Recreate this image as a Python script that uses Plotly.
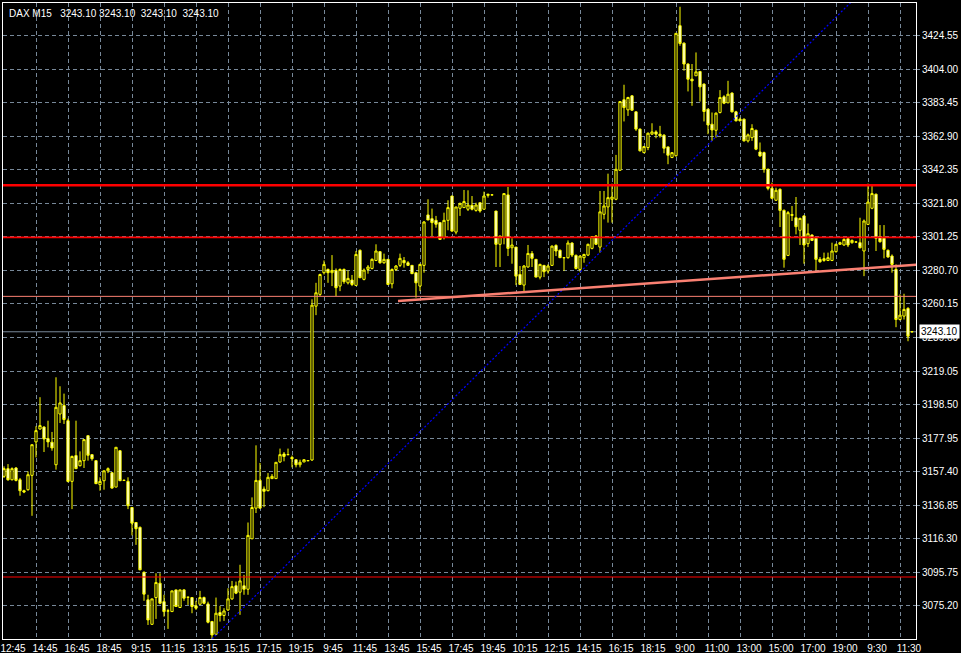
import plotly.graph_objects as go

# ---------------- data (DAX, M15) ----------------
time_labels = ["12:45", "14:45", "16:45", "18:45", "9:15", "11:15", "13:15", "15:15",
               "17:15", "19:15", "9:45", "11:45", "13:45", "15:45", "17:45", "19:45",
               "10:15", "12:15", "14:15", "16:15", "18:15", "9:00", "11:00", "13:00",
               "15:00", "17:00", "19:00", "9:30", "11:30"]

open_ = [3154.5, 3159.2, 3152.4, 3159.6, 3152.4, 3145.7, 3146.3, 3155.1, 3175.6, 3183.5,
         3184.7, 3177.6, 3175.4, 3161.6, 3192.7, 3197.9, 3188.6, 3151.4, 3167.2, 3161.0,
         3164.1, 3179.4, 3167.8, 3164.1, 3149.4, 3151.8, 3157.9, 3156.7, 3147.9, 3170.2,
         3152.0, 3151.4, 3135.4, 3126.2, 3123.2, 3095.7, 3078.8, 3063.8, 3080.2, 3089.0,
         3077.7, 3072.0, 3071.6, 3084.9, 3074.1, 3084.9, 3080.4, 3080.2, 3075.1, 3076.1,
         3080.2, 3076.3, 3065.5, 3057.7, 3071.0, 3069.2, 3072.6, 3079.4, 3087.4, 3083.5,
         3087.4, 3085.3, 3116.2, 3135.0, 3152.0, 3146.7, 3145.7, 3153.1, 3153.1, 3163.3,
         3168.2, 3167.8, 3166.1, 3164.7, 3161.6, 3163.3, 3164.1, 3164.5,
         3258.8, 3266.0, 3279.3, 3281.3, 3279.3, 3280.7, 3271.1, 3281.3, 3273.1, 3274.8,
         3271.5, 3293.0, 3275.2, 3281.3, 3281.9, 3286.8, 3292.2, 3285.4, 3287.5, 3272.5,
         3281.3, 3283.8, 3286.8, 3285.4, 3283.8, 3279.3, 3271.1, 3283.8, 3314.7, 3312.4,
         3311.4, 3310.0, 3300.8, 3311.4, 3326.3, 3304.2, 3318.8, 3319.2, 3318.2, 3320.6,
         3317.5, 3322.2, 3318.2, 3326.7, 3327.0, 3317.1, 3296.7, 3300.8, 3327.0, 3294.6,
         3295.0, 3278.2, 3271.7, 3282.8, 3291.1, 3287.5, 3276.6, 3283.8, 3280.3, 3283.8,
         3296.0, 3293.0, 3288.5, 3288.5, 3297.5, 3289.9, 3281.3, 3288.5, 3290.1, 3294.2,
         3301.8, 3295.0, 3315.1, 3319.6, 3324.3, 3324.3, 3342.1, 3385.3, 3379.1, 3387.7,
         3377.9, 3367.3, 3352.9, 3356.0, 3364.2, 3365.6, 3364.2, 3363.6, 3356.4, 3349.9,
         3351.0, 3430.7, 3420.0, 3407.2, 3397.9, 3400.0, 3402.6, 3394.9, 3379.5, 3370.3,
         3366.6, 3377.5, 3387.1, 3383.4, 3389.4, 3377.9, 3373.4, 3373.4, 3360.1, 3362.1,
         3366.6, 3353.3, 3352.9, 3342.7, 3331.0, 3323.7, 3330.4, 3317.5, 3289.9, 3314.9,
         3313.0, 3305.3, 3314.1, 3297.1, 3302.4, 3300.4, 3287.5, 3286.8, 3286.8, 3286.8,
         3292.2, 3296.7, 3296.3, 3300.1, 3297.7, 3298.1, 3297.7, 3292.6, 3308.9, 3318.8,
         3327.4, 3301.2, 3300.4, 3293.0, 3289.5, 3281.3, 3250.6, 3252.7, 3257.4, 3243.1]

high = [3160.6, 3162.0, 3160.0, 3160.2, 3153.5, 3146.3, 3157.5, 3173.9, 3185.2, 3203.0,
        3185.2, 3188.6, 3181.7, 3215.2, 3209.7, 3205.2, 3189.9, 3167.2, 3188.6, 3169.8,
        3177.0, 3179.4, 3167.8, 3164.1, 3153.9, 3157.9, 3160.0, 3157.1, 3172.3, 3170.5,
        3152.6, 3153.9, 3135.4, 3126.2, 3123.8, 3096.2, 3081.9, 3079.4, 3095.1, 3095.1,
        3081.9, 3073.3, 3084.3, 3084.9, 3084.9, 3085.3, 3080.4, 3080.2, 3078.2, 3084.3,
        3080.8, 3077.7, 3065.9, 3080.2, 3075.1, 3073.7, 3085.9, 3090.4, 3090.0, 3100.3,
        3094.1, 3126.2, 3141.6, 3173.5, 3162.7, 3148.3, 3156.5, 3155.9, 3163.1, 3171.5,
        3169.4, 3171.5, 3167.2, 3164.7, 3164.7, 3164.9, 3164.3, 3263.0,
        3273.1, 3278.7, 3286.8, 3281.9, 3290.1, 3281.9, 3281.9, 3281.9, 3280.7, 3277.9,
        3292.6, 3293.6, 3281.9, 3284.0, 3288.1, 3296.7, 3292.6, 3291.0, 3287.5, 3281.9,
        3284.0, 3291.0, 3288.9, 3286.4, 3283.8, 3279.3, 3284.8, 3311.0, 3324.3, 3318.6,
        3314.1, 3310.0, 3316.1, 3323.7, 3326.3, 3319.6, 3322.2, 3330.0, 3329.8, 3326.3,
        3322.2, 3322.2, 3329.0, 3327.4, 3327.2, 3317.1, 3301.8, 3327.8, 3331.9, 3300.4,
        3295.0, 3283.4, 3284.0, 3296.3, 3292.6, 3287.5, 3284.8, 3283.8, 3284.4, 3296.0,
        3296.7, 3293.6, 3288.7, 3299.1, 3297.9, 3290.5, 3289.9, 3290.9, 3297.1, 3301.8,
        3302.4, 3329.4, 3329.4, 3340.0, 3333.9, 3351.5, 3384.2, 3394.5, 3387.1, 3388.1,
        3378.1, 3367.7, 3357.0, 3365.2, 3370.9, 3366.6, 3369.3, 3364.2, 3356.6, 3352.9,
        3426.0, 3442.3, 3420.4, 3407.6, 3407.2, 3414.3, 3403.0, 3395.3, 3379.9, 3377.5,
        3377.5, 3391.2, 3388.1, 3396.9, 3389.8, 3378.5, 3374.4, 3373.8, 3364.6, 3370.3,
        3367.0, 3359.1, 3353.5, 3343.1, 3334.5, 3331.4, 3331.0, 3318.1, 3317.1, 3320.2,
        3325.7, 3313.0, 3314.5, 3309.4, 3302.8, 3300.8, 3288.9, 3291.6, 3291.6, 3297.7,
        3297.1, 3298.3, 3300.4, 3300.8, 3299.7, 3298.3, 3313.0, 3311.9, 3333.9, 3333.5,
        3327.8, 3308.5, 3308.5, 3293.6, 3290.5, 3284.4, 3266.0, 3266.4, 3258.2, 3243.1]

low = [3153.5, 3151.8, 3152.0, 3151.4, 3142.6, 3144.2, 3145.7, 3130.3, 3166.1, 3183.1,
       3169.4, 3172.3, 3170.2, 3158.6, 3187.2, 3186.6, 3150.8, 3134.4, 3159.2, 3160.6,
       3159.6, 3164.1, 3164.1, 3149.8, 3145.7, 3146.3, 3156.5, 3146.9, 3147.9, 3151.8,
       3151.6, 3134.4, 3118.3, 3112.5, 3097.0, 3078.2, 3063.4, 3063.4, 3067.1, 3076.1,
       3068.5, 3061.0, 3071.6, 3074.7, 3074.1, 3078.2, 3075.7, 3070.6, 3072.6, 3075.7,
       3076.1, 3064.4, 3054.8, 3057.3, 3065.5, 3065.9, 3072.0, 3078.8, 3082.3, 3069.6,
       3081.9, 3081.9, 3116.2, 3132.0, 3135.0, 3135.6, 3145.3, 3153.1, 3153.1, 3162.7,
       3163.7, 3167.8, 3160.0, 3160.0, 3160.0, 3163.3, 3163.9, 3164.0,
       3253.3, 3265.0, 3278.2, 3273.1, 3271.1, 3265.0, 3268.0, 3272.5, 3272.1, 3271.1,
       3271.5, 3276.2, 3274.6, 3278.7, 3281.3, 3286.4, 3284.8, 3284.8, 3271.7, 3269.7,
       3280.3, 3282.8, 3282.4, 3283.4, 3278.7, 3264.0, 3268.0, 3279.3, 3311.6, 3301.8,
       3306.9, 3299.7, 3299.7, 3305.3, 3304.4, 3302.8, 3314.1, 3319.2, 3317.1, 3317.5,
       3316.7, 3316.1, 3318.2, 3325.3, 3326.8, 3282.8, 3282.8, 3296.7, 3289.5, 3284.8,
       3271.7, 3272.1, 3267.6, 3282.4, 3282.8, 3276.6, 3275.2, 3276.6, 3278.7, 3283.4,
       3289.5, 3288.5, 3280.3, 3287.9, 3288.9, 3281.3, 3279.9, 3285.4, 3289.5, 3293.6,
       3296.3, 3291.6, 3312.0, 3310.0, 3310.0, 3323.7, 3341.7, 3372.0, 3375.4, 3378.5,
       3366.2, 3353.6, 3352.5, 3354.4, 3363.8, 3361.7, 3362.1, 3352.5, 3345.8, 3349.5,
       3350.4, 3418.4, 3403.1, 3390.4, 3381.6, 3400.0, 3384.2, 3372.0, 3364.2, 3360.1,
       3362.1, 3376.9, 3382.6, 3383.4, 3377.5, 3372.0, 3372.0, 3359.7, 3359.1, 3360.1,
       3354.4, 3350.3, 3340.6, 3329.8, 3324.3, 3323.3, 3307.3, 3282.4, 3289.5, 3311.0,
       3302.8, 3296.3, 3284.8, 3295.0, 3298.7, 3280.7, 3285.4, 3286.0, 3286.4, 3286.4,
       3291.6, 3296.3, 3295.8, 3295.0, 3297.1, 3297.9, 3294.2, 3277.2, 3308.5, 3318.2,
       3292.6, 3297.7, 3288.1, 3288.5, 3279.3, 3245.9, 3250.0, 3250.6, 3237.3, 3243.1]

close = [3159.2, 3152.4, 3159.2, 3152.0, 3145.7, 3144.9, 3155.5, 3173.9, 3182.5, 3185.6,
         3177.4, 3175.6, 3171.9, 3196.8, 3199.5, 3189.3, 3151.4, 3166.7, 3159.2, 3164.1,
         3177.0, 3167.4, 3165.3, 3150.0, 3151.4, 3157.9, 3159.2, 3147.3, 3172.3, 3151.8,
         3152.0, 3136.5, 3125.8, 3122.4, 3097.2, 3082.3, 3066.5, 3079.4, 3089.4, 3076.7,
         3071.6, 3072.0, 3084.3, 3074.7, 3084.9, 3079.8, 3080.4, 3074.7, 3073.7, 3080.2,
         3076.7, 3065.1, 3057.3, 3070.6, 3069.2, 3072.0, 3079.4, 3086.9, 3082.9, 3090.4,
         3085.3, 3118.3, 3135.4, 3152.0, 3135.0, 3145.3, 3153.9, 3154.5, 3163.1, 3167.8,
         3166.7, 3167.8, 3165.3, 3161.6, 3163.1, 3164.7, 3164.1, 3259.4,
         3267.0, 3278.2, 3284.4, 3279.3, 3280.7, 3270.1, 3281.3, 3273.8, 3275.8, 3272.1,
         3290.5, 3276.2, 3280.9, 3282.8, 3287.5, 3292.6, 3285.4, 3287.5, 3272.1, 3281.3,
         3283.4, 3288.1, 3285.4, 3283.8, 3278.7, 3273.1, 3284.4, 3310.4, 3311.6, 3310.0,
         3309.0, 3299.7, 3311.4, 3319.2, 3304.8, 3319.6, 3321.8, 3322.9, 3320.8, 3318.2,
         3320.8, 3317.1, 3326.3, 3327.4, 3327.0, 3296.7, 3301.8, 3327.8, 3294.2, 3296.3,
         3277.2, 3272.1, 3283.4, 3291.1, 3288.1, 3276.6, 3284.4, 3279.9, 3283.4, 3295.6,
         3292.6, 3288.5, 3288.5, 3297.5, 3290.1, 3281.9, 3289.5, 3290.5, 3296.7, 3301.4,
         3296.7, 3316.6, 3320.2, 3325.3, 3325.7, 3342.7, 3384.2, 3380.5, 3386.7, 3378.9,
         3367.3, 3354.0, 3356.6, 3364.8, 3365.6, 3364.2, 3363.2, 3355.6, 3351.3, 3352.9,
         3426.0, 3419.8, 3407.2, 3397.9, 3396.9, 3402.4, 3393.2, 3378.1, 3369.9, 3366.8,
         3377.1, 3386.7, 3383.2, 3388.7, 3377.9, 3372.4, 3372.4, 3360.1, 3363.8, 3367.7,
         3355.0, 3350.9, 3342.7, 3331.0, 3324.9, 3329.8, 3317.5, 3287.5, 3316.1, 3314.5,
         3307.5, 3312.6, 3296.3, 3303.2, 3299.1, 3287.5, 3286.0, 3287.9, 3288.5, 3292.6,
         3296.7, 3297.7, 3299.7, 3296.3, 3299.1, 3298.1, 3294.6, 3311.0, 3322.6, 3327.8,
         3300.4, 3298.3, 3293.6, 3288.9, 3284.4, 3250.6, 3253.3, 3256.8, 3240.4, 3243.1]

bars = list(range(len(close)))
label_bars = list(range(0, 8 * len(time_labels), 8))

price_ticks = [round(3054.65 + 20.55 * k, 2) for k in range(19)]
last_price = 3243.10

# chart objects
red_levels = [3332.9, 3301.0]
red_low_level = 3092.8
salmon_level = 3264.8
trend_up_x = [52, 212]          # blue dotted trend line (bar index)
trend_up_y = [3054.8, 3445.7]
support_x = [98.5, 232]         # salmon trend line
support_y = [3262.0, 3284.9]

# ---------------- figure ----------------
GRID = "#778899"
fig = go.Figure()

fig.add_trace(go.Candlestick(
    x=bars, open=open_, high=high, low=low, close=close,
    increasing=dict(line=dict(color="#FFFF00", width=1), fillcolor="#000000"),
    decreasing=dict(line=dict(color="#FFFF00", width=1), fillcolor="#FFFFFF"),
    whiskerwidth=0, hoverinfo="skip", showlegend=False,
))

shapes = []
shapes.append(dict(type="line", xref="paper", x0=0, x1=1, yref="y", y0=last_price, y1=last_price,
                   line=dict(color=GRID, width=1), layer="below"))
shapes.append(dict(type="line", xref="paper", x0=0, x1=1, yref="y", y0=red_low_level, y1=red_low_level,
                   line=dict(color="#FF0000", width=1), layer="above"))
shapes.append(dict(type="line", xref="paper", x0=0, x1=1, yref="y", y0=salmon_level, y1=salmon_level,
                   line=dict(color="#FA8072", width=1), layer="above"))
shapes.append(dict(type="line", xref="paper", x0=0, x1=1, yref="y", y0=red_levels[0], y1=red_levels[0],
                   line=dict(color="#FF0000", width=2.5), layer="above"))
shapes.append(dict(type="line", xref="paper", x0=0, x1=1, yref="y", y0=red_levels[1], y1=red_levels[1],
                   line=dict(color="#FF0000", width=1.8), layer="above"))
shapes.append(dict(type="line", xref="x", yref="y", x0=trend_up_x[0], x1=trend_up_x[1],
                   y0=trend_up_y[0], y1=trend_up_y[1],
                   line=dict(color="#0000FF", width=1.2, dash="2px,2px"), layer="above"))
shapes.append(dict(type="line", xref="x", yref="y", x0=support_x[0], x1=support_x[1],
                   y0=support_y[0], y1=support_y[1],
                   line=dict(color="#FA8072", width=2.5), layer="above"))

FONT = "Liberation Sans, Arial, sans-serif"

fig.update_layout(
    width=961, height=653,
    margin=dict(l=3, r=45, t=3, b=14, pad=0),
    paper_bgcolor="#000000", plot_bgcolor="#000000",
    font=dict(family=FONT, size=10, color="#FFFFFF"),
    showlegend=False, hovermode=False,
    boxgap=0.2,
    shapes=shapes,
    xaxis=dict(
        range=[-0.25, 228], rangeslider=dict(visible=False),
        tickmode="array", tickvals=label_bars, ticktext=time_labels,
        showgrid=True, gridcolor=GRID, gridwidth=1, griddash="4px,3px",
        showline=True, linecolor="#FFFFFF", linewidth=1, mirror=True,
        ticks="", ticklabelshift=9, ticklabelstandoff=0,
        tickfont=dict(family=FONT, size=10, color="#FFFFFF"),
        zeroline=False, fixedrange=True, automargin=False,
    ),
    yaxis=dict(
        side="right", range=[3054.8, 3444.6],
        tickmode="array", tickvals=price_ticks, ticktext=[f"{v:.2f}" for v in price_ticks],
        showgrid=True, gridcolor=GRID, gridwidth=1, griddash="4px,3px",
        showline=True, linecolor="#FFFFFF", linewidth=1, mirror=True,
        ticks="outside", ticklen=3, tickcolor=GRID,
        tickfont=dict(family=FONT, size=10, color="#FFFFFF"),
        zeroline=False, fixedrange=True, automargin=False,
    ),
    annotations=[
        dict(text="DAX M15   3243.10 3243.10  3243.10  3243.10", xref="paper", yref="paper",
             x=0.0044, y=0.9835, xanchor="left", yanchor="middle", showarrow=False,
             font=dict(family=FONT, size=10, color="#FFFFFF")),
        dict(text=f"{last_price:.2f}", xref="paper", yref="y", x=1.0033, y=last_price,
             xanchor="left", yanchor="middle", showarrow=False, bgcolor="#FFFFFF",
             borderpad=1, font=dict(family=FONT, size=10, color="#000000")),
    ],
)

fig.write_html("out.html", config={"displayModeBar": False},
               post_script="document.body.style.margin='0';document.body.style.background='#000';")
